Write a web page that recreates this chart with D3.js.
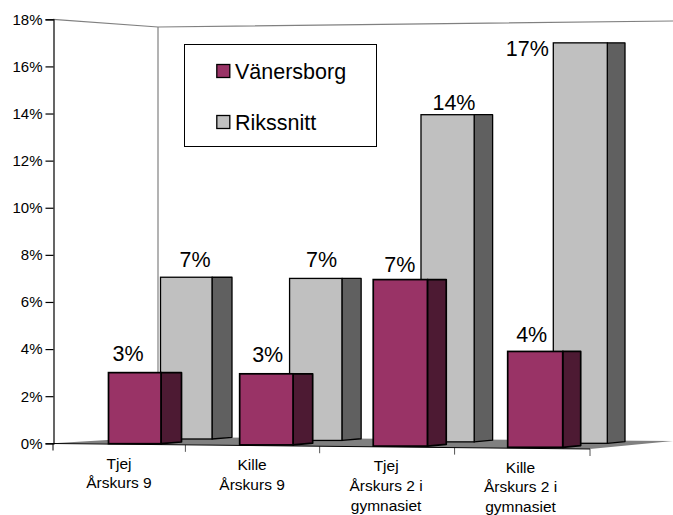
<!DOCTYPE html>
<html><head><meta charset="utf-8">
<script src="https://cdn.jsdelivr.net/npm/d3@7"></script>
<style>html,body{margin:0;padding:0;background:#fff}svg{display:block}text{font-family:"Liberation Sans",Arial,sans-serif;fill:#000}</style>
</head><body><svg id="c" width="673" height="515"></svg>
<script>
const categories = [["Tjej","Årskurs 9"],["Kille","Årskurs 9"],["Tjej","Årskurs 2 i","gymnasiet"],["Kille","Årskurs 2 i","gymnasiet"]];
const seriesNames = ["Vänersborg","Rikssnitt"];
const vanersborg = [0.030,0.0295,0.0695,0.039];
const rikssnitt = [0.0705,0.070,0.1395,0.170];
const yTicks = [0,0.02,0.04,0.06,0.08,0.10,0.12,0.14,0.16,0.18];

const svg = d3.select("#c");
const y = d3.scaleLinear().domain([0,0.18]).range([443.3,19.3]);
const idx = [0,1,2,3];
const depth = d3.scalePow().exponent(1.013).domain([0,3]);
const styles = {
  V:{x:depth.copy().range([108.5,507.7]),w:d3.scaleLinear().domain([0,3]).range([52.5,55]),s:d3.scaleLinear().domain([0,3]).range([20.5,18]),
     b:d3.scaleLinear().domain([0,3]).range([443.7,447.3]),front:"#993366",side:"#4d1a33",sw:1.7,vals:vanersborg,
     dx:[19.5,28,26.6,24],dy:[-12,-12,-8,-9.5]},
  R:{x:depth.copy().range([160.5,553.3]),w:d3.scaleLinear().domain([0,3]).range([51.5,54]),s:d3.scaleLinear().domain([0,3]).range([20,17.7]),
     b:d3.scaleLinear().domain([0,3]).range([439,443.3]),front:"#c0c0c0",side:"#606060",sw:1.3,vals:rikssnitt,
     dx:[34.5,32,33,-26],dy:[-10.5,-11,-5,13]}
};
const line = d3.line();

// wall and floor
svg.append("path").attr("d",line([[53,19.3],[158,27],[673,21]])).attr("fill","none").attr("stroke","#808080").attr("stroke-width",1.2);
svg.append("path").attr("d",line([[158,27],[158,438]])).attr("fill","none").attr("stroke","#808080").attr("stroke-width",1.2);
svg.append("path").attr("d",line([[53,443.3],[158,437],[673,441],[590,449]])+"Z").attr("fill","#808080");

function drawBars(st){
  const g = svg.append("g");
  idx.forEach(i=>{
    const x0=st.x(i),x1=x0+st.w(i),x2=x1+st.s(i),t=y(st.vals[i]),b=st.b(i);
    g.append("path").attr("d",line([[x1,t],[x2,t],[x2,b-1.7],[x1,b]])+"Z").attr("fill",st.side).attr("stroke","#000").attr("stroke-width",st.sw).attr("stroke-linejoin","round");
    g.append("rect").attr("x",x0).attr("y",t).attr("width",x1-x0).attr("height",b-t).attr("fill",st.front).attr("stroke","#000").attr("stroke-width",st.sw);
  });
}
drawBars(styles.R);
drawBars(styles.V);

// value labels
const pct = d3.format(".0%");
[styles.R,styles.V].forEach(st=>idx.forEach(i=>{
  svg.append("text").attr("x",st.x(i)+st.dx[i]).attr("y",y(st.vals[i])+st.dy[i]).attr("text-anchor","middle").attr("font-size",21.5).text(pct(st.vals[i]));
}));

// y axis
const ax = svg.append("g").attr("transform","translate(53.5,0)")
  .call(d3.axisLeft(y).tickValues(yTicks).tickFormat(pct).tickSize(8).tickPadding(3));
ax.selectAll("text").attr("font-size",15).attr("font-family",'"Liberation Sans",Arial,sans-serif');
ax.selectAll("line,path").attr("stroke","#000").attr("stroke-width",1.2);

// category axis
const floorY = d3.scaleLinear().domain([53,590]).range([443.5,449]);
const tickX = d3.scalePow().exponent(1.01).domain([0,4]).range([53,590]);
d3.range(5).forEach(k=>{
  const xx=tickX(k);
  svg.append("line").attr("x1",xx).attr("x2",xx).attr("y1",floorY(xx)).attr("y2",floorY(xx)+7).attr("stroke",k===0?"#000":"#555").attr("stroke-width",1);
});
svg.append("line").attr("x1",53).attr("y1",443.5).attr("x2",590).attr("y2",449).attr("stroke","#000").attr("stroke-width",1);
const labelCx = d3.scalePow().exponent(1.005).domain([0,3]).range([119,520.5]);
const labelTop = d3.scaleLinear().domain([0,3]).range([468.5,472.5]);
categories.forEach((lines,i)=>{
  const t = svg.append("text").attr("text-anchor","middle").attr("font-size",15.5);
  lines.forEach((s,j)=>t.append("tspan").attr("x",labelCx(i)).attr("y",labelTop(i)+j*19.8).text(s));
});

// legend
const lg = svg.append("g");
lg.append("rect").attr("x",184.5).attr("y",44.5).attr("width",192).attr("height",102).attr("fill","#fff").attr("stroke","#000").attr("stroke-width",1);
[[seriesNames[0],styles.V,71],[seriesNames[1],styles.R,122]].forEach(([n,st,cy])=>{
  lg.append("rect").attr("x",216.8).attr("y",cy-6.5).attr("width",13).attr("height",13).attr("fill",st.front).attr("stroke","#000").attr("stroke-width",1.3);
  lg.append("text").attr("x",235).attr("y",cy+7.5).attr("font-size",21.5).text(n);
});
</script></body></html>
